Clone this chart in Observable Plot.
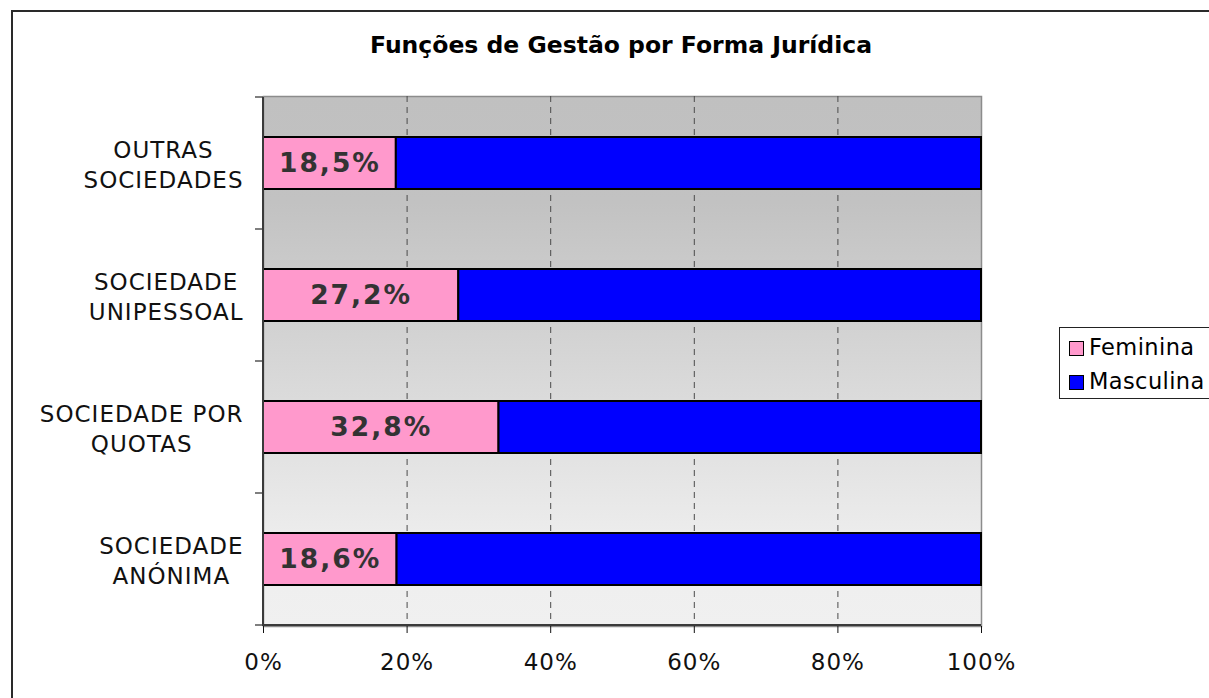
<!DOCTYPE html>
<html>
<head>
<meta charset="utf-8">
<script src="https://cdn.jsdelivr.net/npm/d3@7"></script>
<script src="https://cdn.jsdelivr.net/npm/@observablehq/plot@0.6"></script>
<style>
  html, body { margin: 0; padding: 0; background: #fff; }
  #page { position: relative; width: 1209px; height: 698px; overflow: hidden; }
  #frame { position: absolute; left: 11px; top: 10px; width: 1300px; height: 800px;
           border-left: 2px solid #2a2a2a; border-top: 2px solid #2a2a2a; }
  #chart { position: absolute; left: 0; top: 0; }
  #title { position: absolute; left: 621px; top: 33px; transform: translateX(-50%); white-space: nowrap;
           font: bold 23.5px "DejaVu Sans", Verdana, sans-serif; line-height: 24px; color: #000; }
  #legend { position: absolute; left: 1059px; top: 327px; width: 200px; border: 1px solid #222; border-right: none; background: #fff;
            padding: 2px 0 0 9px; font: 22.5px "DejaVu Sans", Verdana, sans-serif; letter-spacing: 0.4px; color: #000; }
  #legend .row { height: 34px; line-height: 34px; white-space: nowrap; }
  #legend .sw { display: inline-block; width: 13px; height: 13px; border: 1px solid #000; margin-right: 5px; vertical-align: -1px; }
  g[aria-label="text"] text { letter-spacing: 2px; }
  g[aria-label="y-axis tick label"] text, g[aria-label="x-axis tick label"] text { letter-spacing: 1px; }
</style>
</head>
<body>
<div id="page">
<div id="frame"></div>
<div id="chart"></div>
<div id="title">Funções de Gestão por Forma Jurídica</div>
<div id="legend"></div>
</div>
<script>
// ---- data ----
const categories = ["OUTRAS SOCIEDADES", "SOCIEDADE UNIPESSOAL", "SOCIEDADE POR QUOTAS", "SOCIEDADE ANÓNIMA"];
const categoryLabels = ["OUTRAS\nSOCIEDADES", "SOCIEDADE\nUNIPESSOAL", "SOCIEDADE POR\nQUOTAS", "SOCIEDADE\nANÓNIMA"];
const series = ["Feminina", "Masculina"];
const seriesColors = ["#ff99cc", "#0000ff"];
const feminina = [18.5, 27.2, 32.8, 18.6];
const masculina = [81.5, 72.8, 67.2, 81.4];
const xTicks = [0, 20, 40, 60, 80, 100];
const gridTicks = [20, 40, 60, 80];

const rows = [];
categories.forEach((c, i) => {
  rows.push({cat: c, series: "Feminina", value: feminina[i]});
  rows.push({cat: c, series: "Masculina", value: masculina[i]});
});
const femRows = rows.filter(d => d.series === "Feminina");
const labelOf = new Map(categories.map((c, i) => [c, categoryLabels[i]]));
const fmt = v => v.toFixed(1).replace(".", ",") + "%";

// gradient defs (render-function mark)
function gradientDefs() {
  const defs = d3.create("svg:defs");
  const lg = defs.append("linearGradient").attr("id", "bgGrad")
    .attr("x1", 0).attr("y1", 0).attr("x2", 0).attr("y2", 1);
  [[0, "#c0c0c0"], [0.2, "#c2c2c2"], [0.85, "#eeeeee"], [1, "#f0f0f0"]]
    .forEach(([o, c]) => lg.append("stop").attr("offset", o).attr("stop-color", c));
  return defs.node();
}

// Excel-like axis lines and category-boundary ticks, from the plot's own scales
function excelAxes(index, scales) {
  const {x, y} = scales;
  const ys = categories.map(c => y(c));
  const step = ys[1] - ys[0];
  const bounds = [...ys, ys[ys.length - 1] + step];
  const top = Math.min(...bounds), bottom = Math.max(...bounds);
  const x0 = x(0), x1 = x(100);
  const g = d3.create("svg:g").attr("stroke", "#3a3a3a").attr("fill", "none");
  g.append("line").attr("x1", x0).attr("x2", x0).attr("y1", top).attr("y2", bottom + 1).attr("stroke-width", 2);
  g.append("line").attr("x1", x0 - 1).attr("x2", x1).attr("y1", bottom).attr("y2", bottom).attr("stroke-width", 2);
  for (const b of bounds) {
    g.append("line").attr("x1", x0 - 8).attr("x2", x0).attr("y1", b).attr("y2", b).attr("stroke-width", 1.3);
  }
  return g.node();
}

const chart = Plot.plot({
  width: 1209,
  height: 698,
  marginLeft: 263,
  marginRight: 228,
  marginTop: 96,
  marginBottom: 72,
  style: {background: "transparent", overflow: "visible", fontFamily: "DejaVu Sans, Verdana, sans-serif"},
  x: {domain: [0, 100], label: null},
  y: {domain: categories, padding: 0, label: null},
  color: {domain: series, range: seriesColors},
  marks: [
    gradientDefs,
    Plot.frame({fill: "url(#bgGrad)", stroke: "#8c8c8c", strokeWidth: 1.5}),
    Plot.ruleX(gridTicks, {stroke: "#4a4a4a", strokeWidth: 1, strokeDasharray: "6,5"}),
    Plot.barX(rows, {x: "value", y: "cat", fill: "series", stroke: "#000", strokeWidth: 2, insetTop: 40, insetBottom: 40}),
    Plot.text(femRows, {x: d => d.value / 2, y: "cat", text: d => fmt(d.value),
      fontSize: 26.5, fontWeight: "bold", fill: "#333333", fontFamily: "DejaVu Sans, Verdana, sans-serif"}),
    Plot.axisX({ticks: xTicks, tickSize: 7, tickPadding: 20, tickFormat: d => d + "%", fontSize: 23,
      color: "#111", label: null}),
    Plot.axisY({tickSize: 0, tickPadding: 20, tickFormat: c => labelOf.get(c), fontSize: 23,
      lineHeight: 1.3, color: "#111", label: null}),
    excelAxes
  ]
});
document.getElementById("chart").appendChild(chart);

// center each line of a category label within its right-aligned block (Excel style)
d3.select(chart).selectAll('g[aria-label="y-axis tick label"] text').each(function () {
  const w = this.getBBox().width;
  this.setAttribute("text-anchor", "middle");
  const tspans = d3.select(this).selectAll("tspan");
  if (tspans.size()) tspans.attr("x", -w / 2);
  else this.setAttribute("x", (+this.getAttribute("x") || 0) - w / 2);
});

// legend
const legend = d3.select("#legend");
series.forEach((s, i) => {
  const row = legend.append("div").attr("class", "row");
  row.append("span").attr("class", "sw").style("background", seriesColors[i]);
  row.append("span").text(s);
});
</script>
</body>
</html>
